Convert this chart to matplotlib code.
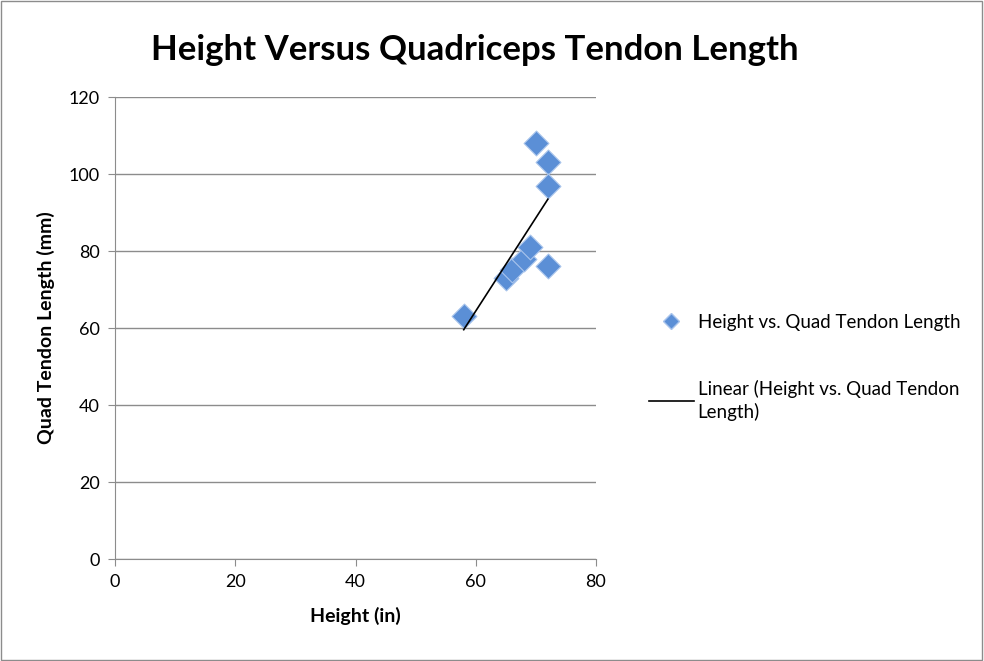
import numpy as np
import matplotlib
matplotlib.use("Agg")
import matplotlib.pyplot as plt
from matplotlib.lines import Line2D

plt.rcParams['font.family'] = ['Lato', 'DejaVu Sans']

# data
height_in = [58, 65, 66, 68, 69, 70, 72, 72, 72]
tendon_mm = [63, 73, 75, 78, 81, 108, 103, 97, 76]
xticks = [0, 20, 40, 60, 80]
yticks = [0, 20, 40, 60, 80, 100, 120]

fig = plt.figure(figsize=(9.84, 6.61), dpi=100)
ax = fig.add_axes([115/984, 1 - 559/661, (596-115)/984, (559-97)/661])

# outer border like the spreadsheet chart frame
fig.patches.append(plt.Rectangle((0.001, 0.001), 0.997, 0.997, transform=fig.transFigure,
                                 fill=False, edgecolor='#8c8c8c', linewidth=1))

ax.scatter(height_in, tendon_mm, marker='D', s=160, color='#5b8fd6',
           edgecolors='#a9c4ec', linewidths=0.8, zorder=3)

slope, icpt = np.polyfit(height_in, tendon_mm, 1)
xs = np.array([min(height_in), max(height_in)])
ax.plot(xs, slope * xs + icpt, color='black', linewidth=1.2, zorder=4)

ax.set_xlim(0, 80)
ax.set_ylim(0, 120)
ax.set_xticks(xticks)
ax.set_yticks(yticks)
ax.yaxis.grid(True, color='#8c8c8c', linewidth=1)
ax.set_axisbelow(True)
for s in ['top', 'right']:
    ax.spines[s].set_visible(False)
for s in ['left', 'bottom']:
    ax.spines[s].set_color('#8c8c8c')
ax.tick_params(axis='both', direction='out', length=5, color='#8c8c8c',
               labelsize=13, pad=6)

ax.set_xlabel('Height (in)', fontsize=14, fontweight='bold', labelpad=12)
ax.set_ylabel('Quad Tendon Length (mm)', fontsize=14, fontweight='bold', labelpad=10)
fig.text(475/984, 1 - 50/661, 'Height Versus Quadriceps Tendon Length',
         fontsize=25, fontweight='bold', ha='center', va='center')

handles = [
    Line2D([], [], marker='D', linestyle='none', markersize=8, color='#5b8fd6',
           markeredgecolor='#a9c4ec'),
    Line2D([], [], color='black', linewidth=1.2),
]
labels = ['Height vs. Quad Tendon Length', 'Linear (Height vs. Quad Tendon\nLength)']
leg = fig.legend(handles, labels, loc='upper left', bbox_to_anchor=(632/984, 1 - 297/661),
                 frameon=False, fontsize=13.5, handlelength=2.4, labelspacing=2.6,
                 handletextpad=0.2)
for t in leg.get_texts():
    t.set_linespacing(1.35)

fig.savefig('out.png', dpi=100)
